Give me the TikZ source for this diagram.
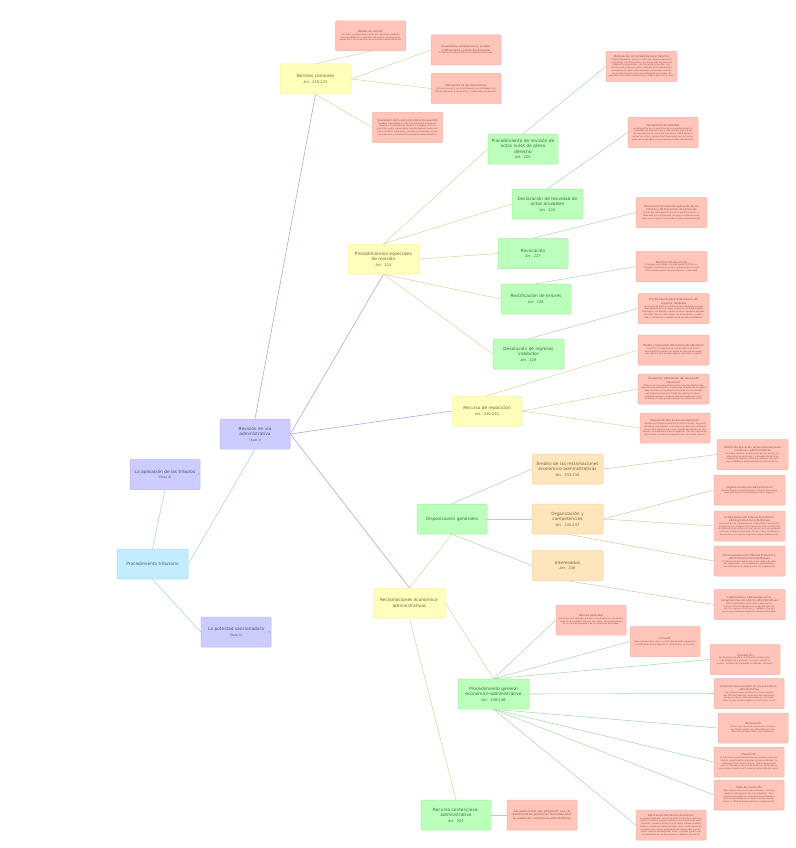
\documentclass[tikz,border=0pt]{standalone}
\usepackage{fontspec}
\setmainfont{DejaVu Sans}
\usetikzlibrary{backgrounds}
\definecolor{purpF}{HTML}{CCCCFF}
\definecolor{purpD}{HTML}{B8B8EE}
\definecolor{purpT}{HTML}{4A4A7A}
\definecolor{blueF}{HTML}{C2EDFF}
\definecolor{blueD}{HTML}{A8DCF0}
\definecolor{blueT}{HTML}{3F5F70}
\definecolor{yelF}{HTML}{FFFFBB}
\definecolor{yelD}{HTML}{EEEEA4}
\definecolor{yelT}{HTML}{66663A}
\definecolor{grnF}{HTML}{BBFFBB}
\definecolor{grnD}{HTML}{A6EBA6}
\definecolor{grnT}{HTML}{3E6E3E}
\definecolor{orgF}{HTML}{FFE5BB}
\definecolor{orgD}{HTML}{F0D4A8}
\definecolor{orgT}{HTML}{74603A}
\definecolor{redF}{HTML}{FFC5BB}
\definecolor{redD}{HTML}{F2B2A8}
\definecolor{redT}{HTML}{8A4E48}
\definecolor{purpL}{HTML}{A9A3E6}
\definecolor{blueL}{HTML}{A4D4E4}
\definecolor{yelL}{HTML}{D8D8A4}
\definecolor{grnL}{HTML}{A8DDA8}
\definecolor{orgL}{HTML}{DCC8A6}
\newcommand{\notebody}[2]{{\fontsize{2.7}{3.4}\selectfont #1\par}{\fontsize{2.1}{2.75}\selectfont #2\par}}
\newcommand{\artline}[1]{\\{\fontsize{3.6}{4.6}\selectfont #1}}
\tikzset{
  x=1pt,y=-1pt,
  box/.style={rectangle, rounded corners=1pt, draw, line width=0.5pt, minimum width=70pt, minimum height=30pt, inner sep=1pt, align=center, text width=64pt, font=\fontsize{4.3}{5.4}\selectfont},
  purpbox/.style={box, fill=purpF, draw=purpD, text=purpT},
  bluebox/.style={box, fill=blueF, draw=blueD, text=blueT},
  yelbox/.style={box, fill=yelF, draw=yelD, text=yelT},
  grnbox/.style={box, fill=grnF, draw=grnD, text=grnT},
  orgbox/.style={box, fill=orgF, draw=orgD, text=orgT},
  notebox/.style={rectangle, rounded corners=1pt, draw=redD, fill=redF, text=redT, line width=0.5pt, minimum width=70pt, minimum height=30pt, inner sep=1pt, align=center, text width=66pt, font=\fontsize{2.1}{2.75}\selectfont},
  lpurp/.style={draw=purpL, line width=0.55pt},
  lblue/.style={draw=blueL, line width=0.55pt},
  lyel/.style={draw=yelL, line width=0.55pt},
  lgrn/.style={draw=grnL, line width=0.55pt},
  lorg/.style={draw=orgL, line width=0.55pt},
  chev/.style={font=\fontsize{4}{4}\selectfont, text=purpT, inner sep=0pt}
}
\begin{document}
\begin{tikzpicture}
\useasboundingbox (0,0) rectangle (795,848);
% left part
\node[purpbox, minimum width=70pt] (aplic) at (165,474.5) {La aplicación de los tributos\\{\fontsize{3}{3.8}\selectfont Título III}};
\node[chev, anchor=east] (aplicchev) at ([xshift=-0.5pt]aplic.east) {›};
\node[bluebox, minimum width=71pt] (proctrib) at (152.5,564) {Procedimiento tributario};
\node[purpbox] (potestad) at (236,632) {La potestad sancionadora\\{\fontsize{3}{3.8}\selectfont Título IV}};
\node[chev, anchor=east] (potchev) at ([xshift=-1pt]potestad.east) {›};
\node[purpbox] (revision) at (255,434) {Revisión en vía\\administrativa\\{\fontsize{3}{3.8}\selectfont Título V}};
% yellow level
\node[yelbox, minimum width=71pt] (normas) at (315.5,79) {Normas comunes\artline{Art. 216-223}};
\node[yelbox, minimum width=71pt] (procesp) at (383.5,259) {Procedimientos especiales\\de revisión\artline{Art. 224}};
\node[yelbox] (recurso) at (487,411) {Recurso de reposición\artline{Art. 230-232}};
\node[yelbox, minimum width=71pt] (reclam) at (409.5,603) {Reclamaciones económico-\\administrativas};
% normas comunes notes
\node[notebox] (medios) at (370.5,36) {\notebody{Medios de revisión}{Los actos y actuaciones podrán ser revisados mediante los procedimientos especiales de revisión, el recurso de reposición y las reclamaciones económico-administrativas.}};
\node[notebox] (capacidad) at (466,50) {\notebody{Capacidad y representación, prueba,\\notificaciones y plazos de resolución}{Se aplicará lo dispuesto en los capítulos anteriores.}};
\node[notebox] (motivacion) at (466,88.5) {\notebody{Motivación de las resoluciones}{Las resoluciones y los actos deberán ser motivados y incluirán referencia a los hechos y fundamentos de derecho.}};
\node[notebox] (suspension) at (407.5,127.5) {\notebody{Suspensión de la ejecución del acto recurrido}{Quedará suspendido el acto si se garantiza el pago del importe, los intereses de demora y recargos. Si no se garantiza, podrá suspenderse cuando pudiera causar perjuicios de difícil reparación, cuando se interponga recurso de reposición o reclamación económico-administrativa.}};
% procedimientos especiales
\node[grnbox] (nulos) at (523,149) {Procedimiento de revisión de\\actos nulos de pleno\\derecho\artline{Art. 225}};
\node[grnbox, minimum width=71pt] (lesividad) at (547.5,204) {Declaración de lesividad de\\actos anulables\artline{Art. 226}};
\node[grnbox] (revocacion) at (533,253.5) {Revocación\artline{Art. 227}};
\node[grnbox] (rectif) at (536,299) {Rectificación de errores\artline{Art. 228}};
\node[grnbox, minimum width=71pt] (devolucion) at (528.5,354) {Devolución de ingresos\\indebidos\artline{Art. 229}};
\node[notebox, minimum width=71pt] (nulidad) at (641.5,66.5) {\notebody{Declaración de nulidad de pleno derecho}{Podrán declararse nulos los actos que lesionen derechos y libertades constitucionales, que hayan sido dictados por órganos incompetentes, con contenido imposible, constitutivos de infracción penal, dictados prescindiendo del procedimiento legal, actos expresos o presuntos contrarios al ordenamiento y los que establezca una norma. El procedimiento podrá iniciarse por el órgano que dictó el acto.}};
\node[notebox] (declesiv) at (663,132.5) {\notebody{Declaración de lesividad}{La Administración no podrá anular en perjuicio de los interesados sus propios actos y resoluciones más allá de los supuestos de los artículos anteriores. Podrá declarar lesivos los actos y resoluciones favorables para los interesados que supongan un incumplimiento del ordenamiento.}};
\node[notebox, minimum width=71pt] (revocactos) at (671.5,212.5) {\notebody{Revocación de actos de aplicación de los\\tributos y de imposición de sanciones}{Podrán ser revocados los actos en beneficio de los interesados si se estima que infringen el ordenamiento, salvo que se haya transcurrido el plazo de prescripción.}};
\node[notebox, minimum width=71pt] (rectred) at (671.5,266.5) {\notebody{Rectificación de errores}{El órgano que hubiera dictado podrá rectificar en cualquier momento los errores, siempre que no haya transcurrido el plazo de prescripción o caducidad.}};
\node[notebox, minimum width=71pt] (procdevol) at (673.5,308.5) {\notebody{Procedimiento para la devolución de\\ingresos indebidos}{Se iniciará de oficio o a instancia del interesado cuando haya duplicidad en el pago, cuando la cantidad pagada sea mayor a la debida, cuando se haya ingresado después de haber transcurrido el plazo de prescripción o caducidad, o cuando así lo establezca la normativa tributaria.}};
% recurso de reposicion
\node[notebox, minimum width=71pt] (objeto) at (673.5,350) {\notebody{Objeto y naturaleza del recurso de reposición}{Los actos susceptibles de reclamación económico-administrativa podrán ser objeto de recurso de reposición según lo que se disponga en el presente capítulo.}};
\node[notebox, minimum width=71pt] (iniciarr) at (673.5,389) {\notebody{Iniciación y tramitación del recurso de\\reposición}{Plazo de un mes para interponerlo, a contar desde el día siguiente a la notificación. Cuando sea competente el órgano administrativo, la reposición someterá al conocimiento del órgano competente todas las cuestiones del expediente, aunque no hayan sido planteadas por el interesado, sin que pueda empeorar su situación inicial.}};
\node[notebox] (resolrr) at (675,428) {\notebody{Resolución del recurso de reposición}{Resolverá el órgano que dictó el acto recurrido. No podrá abstenerse de resolver, y la resolución debe ser notificada en un plazo máximo de 1 mes. Pasado ese tiempo sin resolución, se entenderá silencio negativo. Contra la resolución del recurso no podrá interponerse de nuevo este recurso.}};
% reclamaciones
\node[grnbox] (dispos) at (452,519) {Disposiciones generales};
\node[grnbox, minimum width=71pt] (procgen) at (493.5,694) {Procedimiento general\\económico-administrativo\artline{Art. 239-248}};
\node[grnbox] (contenc) at (456,815) {Recurso contencioso-\\administrativo\artline{Art. 247}};
\node[orgbox, minimum width=71pt] (ambito) at (567.5,469) {Ámbito de las reclamaciones\\económico-administrativas\artline{Art. 233-234}};
\node[orgbox, minimum width=71pt] (organiz) at (567.5,519) {Organización y\\competencias\artline{Art. 235-237}};
\node[orgbox, minimum width=71pt] (interes) at (567.5,565.5) {Interesados\artline{Art. 238}};
\node[notebox, minimum width=71pt] (ambitoapl) at (752.5,454.5) {\notebody{Ámbito de aplicación de las reclamaciones\\económico-administrativas}{Se puede reclamar la aplicación de los tributos y la imposición de sanciones, la recaudación de otros ingresos de derecho público y cualquier otro acto que establezca expresamente una Norma Foral.}};
\node[notebox, minimum width=71pt] (organo) at (749.5,490) {\notebody{Órgano económico-administrativo}{Conocerá de las reclamaciones el Tribunal Económico-administrativo Foral de Bizkaia y otros órganos.}};
\node[notebox, minimum width=71pt] (competen) at (749.5,526) {\notebody{Competencia del Tribunal Económico-\\administrativo Foral de Bizkaia}{Conocerá de las reclamaciones interpuestas contra actos dictados por los órganos de la Hacienda Foral incluidos en el artículo 233 de la Norma Foral, de los recursos extraordinarios de revisión contra actos firmes y de la rectificación de errores en los que incurran sus propias resoluciones.}};
\node[notebox, minimum width=71pt] (funcion) at (749.5,561) {\notebody{Funcionamiento del Tribunal Económico-\\administrativo Foral de Bizkaia}{El Tribunal funcionará en pleno, en salas y de manera unipersonal. Su composición, organización y funcionamiento se determinarán por reglamento.}};
\node[notebox, minimum width=71pt] (legitim) at (749.5,604.5) {\notebody{Legitimados e interesados en las\\reclamaciones económico-administrativas}{Están legitimados para instar y para participar en las reclamaciones los obligados tributarios y los sujetos infractores y cualquier otra persona cuyos intereses legítimos resulten afectados.}};
% procedimiento general notes
\node[notebox] (normasgen) at (591,620) {\notebody{Normas generales}{El proceso será gratuito, aunque si se desestima y se aprecia mala fe se le podrán imponer las costas. El procedimiento en su caso de segunda o de los siguientes afectados.}};
\node[notebox] (inicia) at (665,641.5) {\notebody{Iniciación}{Plazo máximo de un mes a contar desde el día siguiente a la notificación para presentar la reclamación, por escrito.}};
\node[notebox] (tramita) at (745,659.5) {\notebody{Tramitación}{Se impulsará de oficio; el Tribunal acordará practicar diligencias y pruebas, así como solicitar informes. Cuando haya quedado acreditado, resolverá.}};
\node[notebox] (extens) at (749,693.5) {\notebody{Extensión de la revisión en vía económico-\\administrativa}{Las reclamaciones someterán al conocimiento del Tribunal todas las cuestiones del expediente aunque no hayan sido planteadas por el interesado, sin que pueda empeorar su situación inicial.}};
\node[notebox] (termina) at (753,728) {\notebody{Terminación}{Termina por renuncia al derecho o reclamo, por desistimiento, por caducidad, por satisfacción extraprocesal y por resolución.}};
\node[notebox] (resol) at (749,762) {\notebody{Resolución}{El Tribunal no podrá abstenerse de resolver; podrá estimarla, desestimarla o declarar la inadmisibilidad. La resolución tiene plena eficacia. Podrá interponerse ante el Tribunal un recurso de anulación de la misma en un plazo máximo de 15 días en determinados casos.}};
\node[notebox] (plazo) at (749,795) {\notebody{Plazo de resolución}{Plazo máximo de un año para resolver, contando desde la interposición de la reclamación. Transcurrido este plazo se entenderá desestimada a efectos de interponer un nuevo recurso. Sin embargo, el Tribunal deberá resolver expresamente.}};
\node[notebox] (extraord) at (671,825) {\notebody{Recurso extraordinario de revisión}{Se podrá interponer contra los actos firmes de la Administración tributaria cuando aparezcan documentos de valor esencial, cuando al dictar el acto hayan influido pruebas falsas o cuando se hubiera dictado como consecuencia de prevaricación. Están legitimados los interesados y el Director General de Hacienda. Plazo: 3 meses a partir del conocimiento de los documentos o desde la sentencia.}};
\node[notebox, font=\fontsize{2.8}{3.5}\selectfont] (contchild) at (542,815) {Las resoluciones que pongan fin a la vía administrativa podrán ser recurridas ante la jurisdicción contencioso-administrativa};
% connectors
\begin{scope}[on background layer]
\fill[white] (0,0) rectangle (795,848);
\draw[lblue] (proctrib.north) -- (aplic.south);
\draw[lblue] (proctrib.east) -- (revision.south);
\draw[lblue] (proctrib.south) -- (potestad.west);
\draw[lpurp] (revision.north) -- (normas.south);
\draw[lpurp] (revision.east) -- (procesp.south);
\draw[lpurp] (revision.east) -- (recurso.west);
\draw[lpurp] (revision.east) -- (reclam.north);
\draw[lyel] (normas.north) -- (medios.south);
\draw[lyel] (normas.east) -- (capacidad.west);
\draw[lyel] (normas.east) -- (motivacion.west);
\draw[lyel] (normas.south) -- (suspension.west);
\draw[lyel] (procesp.north) -- (nulos.west);
\draw[lyel] (procesp.north) -- (lesividad.west);
\draw[lyel] (procesp.east) -- (revocacion.west);
\draw[lyel] (procesp.south) -- (rectif.west);
\draw[lyel] (procesp.south) -- (devolucion.west);
\draw[lgrn] (nulos.north) -- (nulidad.west);
\draw[lgrn] (lesividad.north) -- (declesiv.west);
\draw[lgrn] (revocacion.north) -- (revocactos.west);
\draw[lgrn] (rectif.north) -- (rectred.west);
\draw[lgrn] (devolucion.north) -- (procdevol.west);
\draw[lyel] (recurso.north) -- (objeto.west);
\draw[lyel] (recurso.east) -- (iniciarr.west);
\draw[lyel] (recurso.east) -- (resolrr.west);
\draw[lyel] (reclam.north) -- (dispos.south);
\draw[lyel] (reclam.east) -- (procgen.north);
\draw[lyel] (reclam.south) -- (contenc.north);
\draw[lgrn] (dispos.north) -- (ambito.west);
\draw[lgrn] (dispos.east) -- (organiz.west);
\draw[lgrn] (dispos.south) -- (interes.west);
\draw[lorg] (ambito.east) -- (ambitoapl.west);
\draw[lorg] (organiz.east) -- (organo.west);
\draw[lorg] (organiz.east) -- (competen.west);
\draw[lorg] (organiz.south) -- (funcion.west);
\draw[lorg] (interes.south) -- (legitim.west);
\draw[lgrn] (procgen.north) -- (normasgen.west);
\draw[lgrn] (procgen.north) -- (inicia.west);
\draw[lgrn] (procgen.north) -- (tramita.west);
\draw[lgrn] (procgen.east) -- (extens.west);
\draw[lgrn] (procgen.south) -- (termina.west);
\draw[lgrn] (procgen.south) -- (resol.west);
\draw[lgrn] (procgen.south) -- (plazo.west);
\draw[lgrn] (procgen.south) -- (extraord.west);
\draw[lgrn] (contenc.east) -- (contchild.west);
\end{scope}
\end{tikzpicture}
\end{document}
